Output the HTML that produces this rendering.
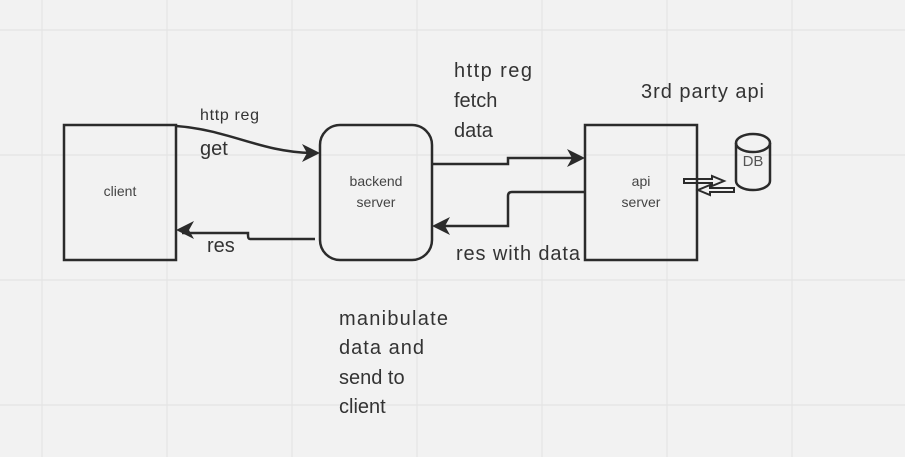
<!DOCTYPE html>
<html><head><style>
html,body{margin:0;padding:0;background:#f2f2f2;}
svg{display:block;font-family:"Liberation Sans",sans-serif;}
</style></head><body>
<svg width="905" height="457" viewBox="0 0 905 457" xmlns="http://www.w3.org/2000/svg">
<rect width="905" height="457" fill="#f2f2f2"/>
<g stroke="#e4e4e4" stroke-width="1.2">
<line x1="42" y1="0" x2="42" y2="457"/><line x1="167" y1="0" x2="167" y2="457"/>
<line x1="292" y1="0" x2="292" y2="457"/><line x1="417" y1="0" x2="417" y2="457"/>
<line x1="542" y1="0" x2="542" y2="457"/><line x1="667" y1="0" x2="667" y2="457"/>
<line x1="792" y1="0" x2="792" y2="457"/>
<line x1="0" y1="30" x2="905" y2="30"/><line x1="0" y1="155" x2="905" y2="155"/>
<line x1="0" y1="280" x2="905" y2="280"/><line x1="0" y1="405" x2="905" y2="405"/>
</g>
<g fill="none" stroke="#2b2b2b" stroke-width="2.5">
<rect x="64" y="125" width="112" height="135"/>
<rect x="320" y="125" width="112" height="135" rx="20"/>
<rect x="585" y="125" width="112" height="135"/>
<path d="M736 143 a17 9 0 0 1 34 0 v38 a17 9 0 0 1 -34 0 z"/>
<path d="M736 143 a17 9 0 0 0 34 0"/>
<path d="M176 126 C230 130 260 152 312 153"/>
<path d="M315 239 H250 Q248 239 248 235 V233 H182"/>
<path d="M432 164 H508 V158 H576"/>
<path d="M585 192 H512 Q508 192 508 196 V226 H440"/>
</g>
<g fill="#2b2b2b">
<path d="M320 153 l-18 -9 5 9 -5 9 z"/>
<path d="M176 230 l18 -9 -5 9 5 9 z"/>
<path d="M585 158 l-18 -9 5 9 -5 9 z"/>
<path d="M432 226 l18 -9 -5 9 5 9 z"/>
</g>
<g fill="none" stroke="#2b2b2b" stroke-width="2">
<path d="M684 179 h28 v-3 l12 5 -12 5 v-3 h-28 z"/>
<path d="M734 192 h-24 v3 l-12 -5 12 -5 v3 h24 z"/>
</g>
<g fill="#444" font-size="14" text-anchor="middle">
<text x="120" y="196">client</text>
<text x="376" y="186">backend</text><text x="376" y="207">server</text>
<text x="641" y="186">api</text><text x="641" y="207">server</text>
<text x="753" y="166" font-size="15" fill="#555">DB</text>
</g>
<g fill="#333" font-size="20">
<text x="454" y="77" textLength="78">http reg</text><text x="454" y="107">fetch</text><text x="454" y="137">data</text>
<text x="641" y="98" textLength="123">3rd party api</text>
<text x="200" y="155">get</text>
<text x="207" y="252">res</text>
<text x="456" y="260" textLength="124">res with data</text>
<text x="339" y="325" textLength="109">manibulate</text><text x="339" y="354" textLength="85">data and</text>
<text x="339" y="384">send to</text><text x="339" y="413">client</text>
</g>
<text x="200" y="120" fill="#333" font-size="16" textLength="59">http reg</text>
</svg>
</body></html>
